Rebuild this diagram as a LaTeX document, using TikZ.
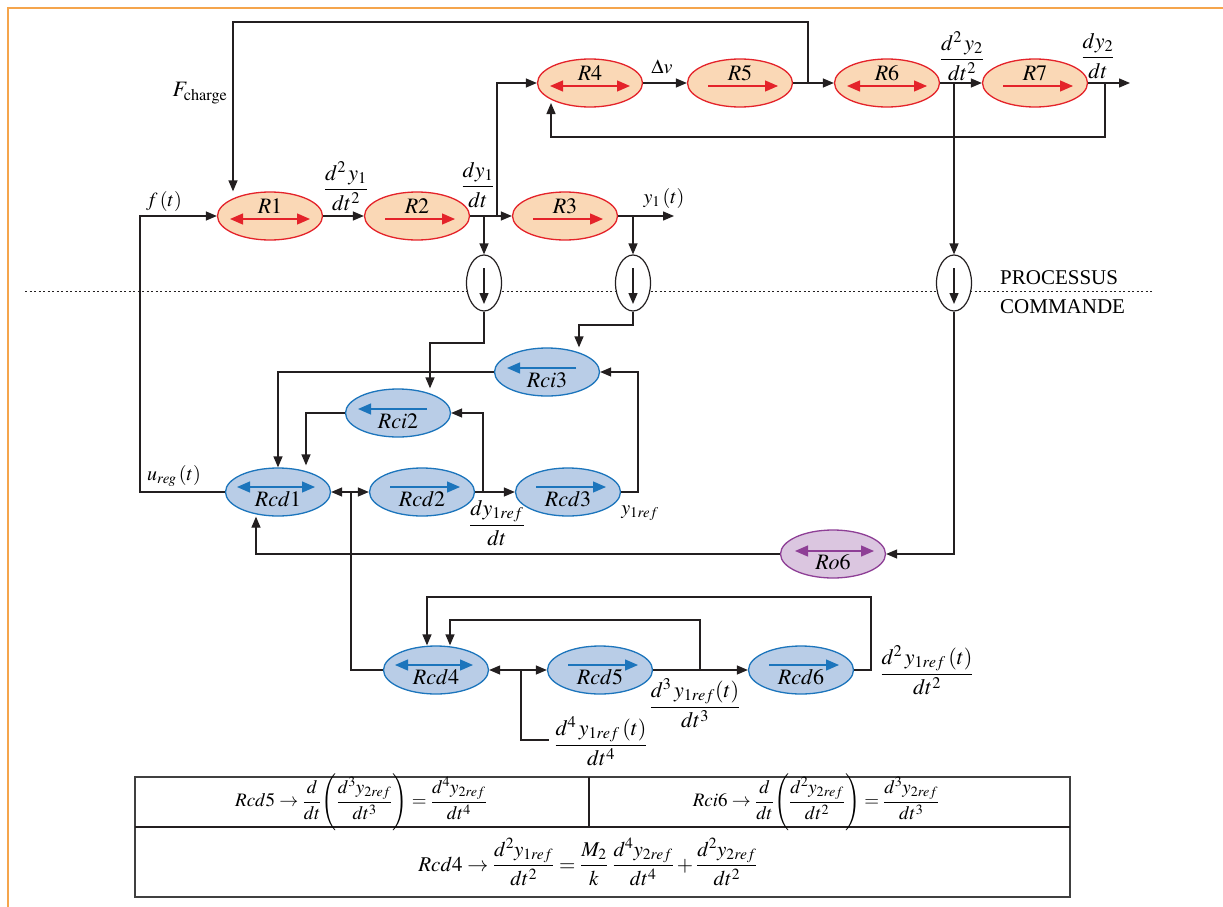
\documentclass[tikz,border=0pt]{standalone}
\usepackage{mathptmx}
\usepackage{amsmath}
\usepackage{fontspec}
\setmainfont{Liberation Serif}
\usetikzlibrary{arrows.meta,calc,shapes.geometric}
\definecolor{orfill}{HTML}{FAD8B6}
\definecolor{redc}{HTML}{E4232A}
\definecolor{blfill}{HTML}{B9CDE7}
\definecolor{blc}{HTML}{1C75BC}
\definecolor{pufill}{HTML}{DBC6E0}
\definecolor{puc}{HTML}{8E3F96}
\definecolor{framec}{HTML}{F5A54C}
\definecolor{ink}{HTML}{231F20}
\begin{document}
\begin{tikzpicture}[x=1pt,y=-1pt,
  every node/.style={font=\fontsize{20}{24}\selectfont, inner sep=0pt},
  ell/.style={ellipse, minimum width=105pt, minimum height=48pt, line width=1.3pt},
  rell/.style={ell, draw=redc, fill=orfill},
  bell/.style={ell, draw=blc, fill=blfill},
  pell/.style={ell, draw=puc, fill=pufill},
  ellab/.style={font=\fontsize{22}{26}\selectfont},
  sens/.style={ellipse, draw=ink, fill=white, line width=1.2pt, minimum width=35pt, minimum height=56pt},
  conn/.style={draw=ink, line width=1.3pt, >={Triangle[length=11pt,width=9pt]}},
  redarr/.style={draw=redc, line width=1.3pt, >={Triangle[length=13pt,width=11pt]}},
  bluarr/.style={draw=blc, line width=1.3pt, >={Triangle[length=13pt,width=11pt]}},
  puarr/.style={draw=puc, line width=1.3pt, >={Triangle[length=13pt,width=11pt]}},
  fraclab/.style={font=\fontsize{22}{26}\selectfont},
  tabf/.style={font=\fontsize{19}{23}\selectfont},
  tabg/.style={font=\fontsize{21}{25}\selectfont},
  sidetxt/.style={font=\fontsize{21}{24}\selectfont, anchor=west}
]
\useasboundingbox (0,0) rectangle (1223,907);
% frame
\draw[framec, line width=2pt] (8,907) -- (8,8) -- (1223,8);
% dotted separation
\draw[ink, line width=1pt, dash pattern=on 2pt off 2.5pt] (25,291) -- (1153,291);
\node[sidetxt] (proc) at (1000,278) {PROCESSUS};
\node[sidetxt] (comm) at (1000,307) {COMMANDE};

% ---------- process ellipses ----------
\foreach \n/\px/\py/\lab in {R1/270/216/R1, R4/590/83/R4, R6/887/83/R6}{
  \node[rell] (\n) at (\px,\py) {};
  \draw[redarr,<->] ($(\n)+(-40,3)$) -- ($(\n)+(40,3)$);
  \node[ellab] at ($(\n)+(0,-10)$) {$\lab$};
}
\foreach \n/\px/\py/\lab in {R2/417/216/R2, R3/565/216/R3, R5/740/83/R5, R7/1035/83/R7}{
  \node[rell] (\n) at (\px,\py) {};
  \draw[redarr,->] ($(\n)+(-32,3)$) -- ($(\n)+(38,3)$);
  \node[ellab] at ($(\n)+(0,-10)$) {$\lab$};
}
% ---------- command ellipses ----------
\foreach \n/\px/\py/\lab in {Rcd1/278/492/Rcd1, Rcd4/436/670/Rcd4}{
  \node[bell] (\n) at (\px,\py) {};
  \draw[bluarr,<->] ($(\n)+(-41,-5)$) -- ($(\n)+(37,-5)$);
  \node[ellab] at ($(\n)+(0,7)$) {$\lab$};
}
\foreach \n/\px/\py/\lab in {Rcd2/422/492/Rcd2, Rcd3/568/492/Rcd3, Rcd5/600/670/Rcd5, Rcd6/801/670/Rcd6}{
  \node[bell] (\n) at (\px,\py) {};
  \draw[bluarr,->] ($(\n)+(-32,-5)$) -- ($(\n)+(38,-5)$);
  \node[ellab] at ($(\n)+(0,7)$) {$\lab$};
}
\foreach \n/\px/\py/\lab in {Rci2/398/413/Rci2, Rci3/547/372/Rci3}{
  \node[bell] (\n) at (\px,\py) {};
  \draw[bluarr,->] ($(\n)+(29,-4)$) -- ($(\n)+(-40,-4)$);
  \node[ellab] at ($(\n)+(0,8)$) {$\lab$};
}
\node[pell] (Ro6) at (833,554) {};
\draw[puarr,<->] ($(Ro6)+(-38,-3)$) -- ($(Ro6)+(41,-3)$);
\node[ellab] at ($(Ro6)+(0,8)$) {$Ro6$};

% ---------- sensors ----------
\foreach \n/\px in {S1/484, S2/633, S3/954}{
  \node[sens] (\n) at (\px,283) {};
  \draw[conn,->] ($(\n)+(0,-15)$) -- ($(\n)+(0,21)$);
}

% ---------- process connectors ----------
\coordinate (jF) at (808,83);
\coordinate (jA) at (497,216);
\coordinate (jB) at (484,216);
\coordinate (jC) at (633,216);
\coordinate (jD) at (954,83);
\coordinate (jE) at (1105,83);
\coordinate (y1out) at (674,216);
\coordinate (y2out) at (1130,83);
\coordinate (cF) at (233,22);
\coordinate (cRci2) at (430,343);
\coordinate (cRci3) at (579,325);
\draw[conn,->] (R1.east) -- (R2.west);
\draw[conn,->] (R2.east) -- (R3.west);
\draw[conn,->] (R3.east) -- (y1out);
\draw[conn,->] (jA) |- (R4.west);
\draw[conn,->] (jB) -- (S1.north);
\draw[conn,->] (jC) -- (S2.north);
\draw[conn,->] (R4.east) -- (R5.west);
\draw[conn,->] (R5.east) -- (R6.west);
\draw[conn,->] (R6.east) -- (R7.west);
\draw[conn,->] (R7.east) -- (y2out);
\draw[conn,->] (jD) -- (S3.north);
\draw[conn,->] (jE) -- (1105,137) -- (551,137) -- ($(R4.center)+(-39,20)$);
\draw[conn,->] (jF) -- (808,22) -- (cF) -- (cF |- R1.north);
\draw[conn,->] (Rcd1.west) -- (140,492) |- (R1.west);

% ---------- command connectors ----------
\draw[conn,->] (S1.south) |- (cRci2) -- (cRci2 |- Rci2.north);
\draw[conn,->] (S2.south) |- (cRci3) -- (cRci3 |- Rci3.north);
\draw[conn,->] (Rci3.west) -| (Rcd1.north);
\draw[conn,->] (Rci2.west) -| ($(Rcd1.north)+(28,-2)$);
\draw[conn,<->] (Rcd1.east) -- (Rcd2.west);
\draw[conn] (351,492) |- (Rcd4.west);
\draw[conn,->] (Rcd2.east) -- (Rcd3.west);
\draw[conn,->] (483,492) |- (Rci2.east);
\draw[conn,->] (Rcd3.east) -- (638,492) |- (Rci3.east);
\draw[conn,->] (S3.south) |- (Ro6.east);
\draw[conn,->] (Ro6.west) -| ($(Rcd1.south)+(-22,0)$);
\draw[conn,<->] (Rcd4.east) -- (Rcd5.west);
\draw[conn] (521,670) |- (549,740);
\draw[conn,->] (Rcd5.east) -- (Rcd6.west);
\draw[conn,->] (700,670) -- (700,620) -| ($(Rcd4.north)+(14,0)$);
\draw[conn,->] (Rcd6.east) -- (871,670) -- (871,597) -| ($(Rcd4.north)+(-9,0)$);

% ---------- labels ----------
\node[fraclab] (lF) at (200,93) {$F_{\mathrm{charge}}$};
\node (lf) at (164,201) {$f\,(t)$};
\node[fraclab] (l1) at (346,186) {$\dfrac{d^2\,y_1}{dt^2}$};
\node[fraclab] (l2) at (478,185) {$\dfrac{dy_1}{dt}$};
\node (l3) at (664,198) {$y_1\,(t)$};
\node (l4) at (662,67) {$\Delta v$};
\node[fraclab] (l5) at (962,56) {$\dfrac{d^2\,y_2}{dt^2}$};
\node[fraclab] (l6) at (1098,56) {$\dfrac{dy_2}{dt}$};
\node (l7) at (174,476) {$u_{reg}\,(t)$};
\node[fraclab] (l8) at (497,523) {$\dfrac{dy_{1ref}}{dt}$};
\node (l9) at (640,513) {$y_{1ref}$};
\node[fraclab] (l10) at (601,741) {$\dfrac{d^4\,y_{1ref}\,(t)}{dt^4}$};
\node[fraclab] (l11) at (695,703) {$\dfrac{d^3\,y_{1ref}(t)}{dt^3}$};
\node[fraclab] (l12) at (927,670) {$\dfrac{d^2\,y_{1ref}\,(t)}{dt^2}$};

% ---------- table ----------
\draw[draw=black!75, line width=1.5pt] (135,777) rectangle (1070,897);
\draw[draw=ink, line width=2.5pt] (135,827) -- (1070,827);
\draw[draw=ink, line width=1.5pt] (589,777) -- (589,827);
\node[tabf] (t1) at (361,802) {$Rcd5\rightarrow\dfrac{d}{dt}\Biggl(\dfrac{d^3y_{2ref}}{dt^3}\Biggr)=\dfrac{d^4y_{2ref}}{dt^4}$};
\node[tabf] (t2) at (816,802) {$Rci6\rightarrow\dfrac{d}{dt}\Biggl(\dfrac{d^2y_{2ref}}{dt^2}\Biggr)=\dfrac{d^3y_{2ref}}{dt^3}$};
\node[tabg] (t3) at (588,862) {$Rcd4\rightarrow\dfrac{d^2y_{1ref}}{dt^2}=\dfrac{M_2}{k}\;\dfrac{d^4y_{2ref}}{dt^4}+\dfrac{d^2y_{2ref}}{dt^2}$};
\end{tikzpicture}
\end{document}
